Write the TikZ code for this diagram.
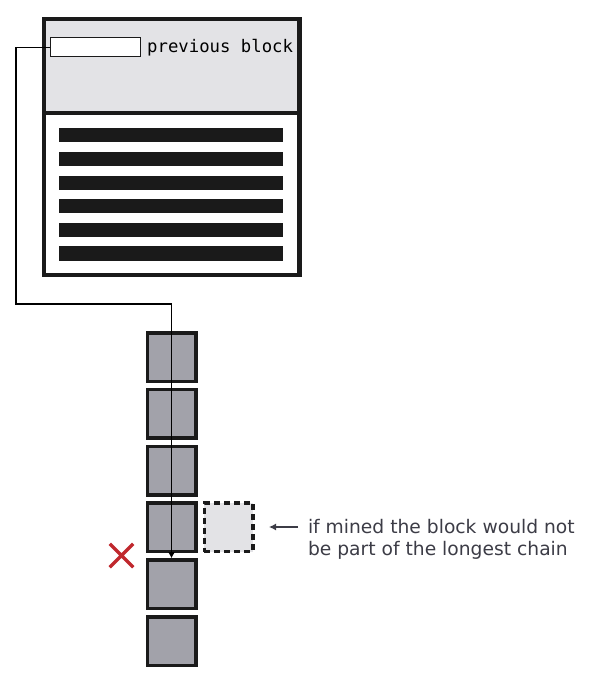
\documentclass[tikz,border=0pt]{standalone}
\usepackage{fontspec}
\setmainfont{DejaVu Sans}
\setmonofont{DejaVu Sans Mono}
\usetikzlibrary{positioning,shapes.misc,arrows.meta}
\definecolor{hdrgray}{HTML}{E3E3E6}
\definecolor{blkgray}{HTML}{A2A2AA}
\definecolor{ink}{HTML}{1A1A1A}
\definecolor{notegray}{HTML}{3C3C46}
\definecolor{crossred}{HTML}{C0282D}

\begin{document}
\begin{tikzpicture}[x=1pt,y=-1pt,
  frame/.style={draw=ink,line width=4.5pt,minimum width=255.5pt,inner sep=0pt},
  tx/.style={fill=ink,minimum width=224pt,minimum height=14pt,inner sep=0pt},
  blk/.style={draw=ink,fill=blkgray,line width=3.5pt,minimum size=48.5pt,inner sep=0pt},
  link/.style={line width=1.2pt,-{Latex[length=6pt,width=7pt]}}]
  \useasboundingbox (0,0) rectangle (597,684);
      \node[frame,fill=hdrgray,minimum height=94pt](head) at (171.5,66){};
        \node[frame,fill=white,minimum height=162pt](body) at (171.5,194){};
      \node[draw=ink,fill=white,line width=1pt,minimum width=90pt,minimum height=19pt,inner sep=0pt](ptr) at (95,47.5){};
      \node[right=6.5pt of ptr,inner sep=0pt,font=\ttfamily\fontsize{17.3}{20}\selectfont](lbl){previous block};

  \foreach \i in {0,...,5}
    \node[tx](tx\i) at (171,{135.5+23.6*\i}){};
  \foreach \i in {1,...,6}
    \node[blk](b\i) at (171.5,{300.2+56.8*\i}){};

        \node[blk,dashed,dash pattern=on 6pt off 4pt,fill=hdrgray,right=5pt of b4](orph){};
        \node[cross out,draw=crossred,line width=3.5pt,minimum size=20pt](rej) at (121.5,555.5){};

          \coordinate (bend) at (16,304);
          \draw[link](ptr.west)-|(bend)-|(b5.north);

  \node[anchor=text,align=left,inner sep=0pt,text=notegray,font=\fontsize{18.7}{22.5}\selectfont](note) at (308,555.5){if mined the block would not\\be part of the longest chain};
  \draw[notegray,line width=1.2pt,-{Latex[length=7pt,width=7pt]}]([shift={(-10,-28.5)}]note.text)-- ++(-29,0);

\end{tikzpicture}
\end{document}
